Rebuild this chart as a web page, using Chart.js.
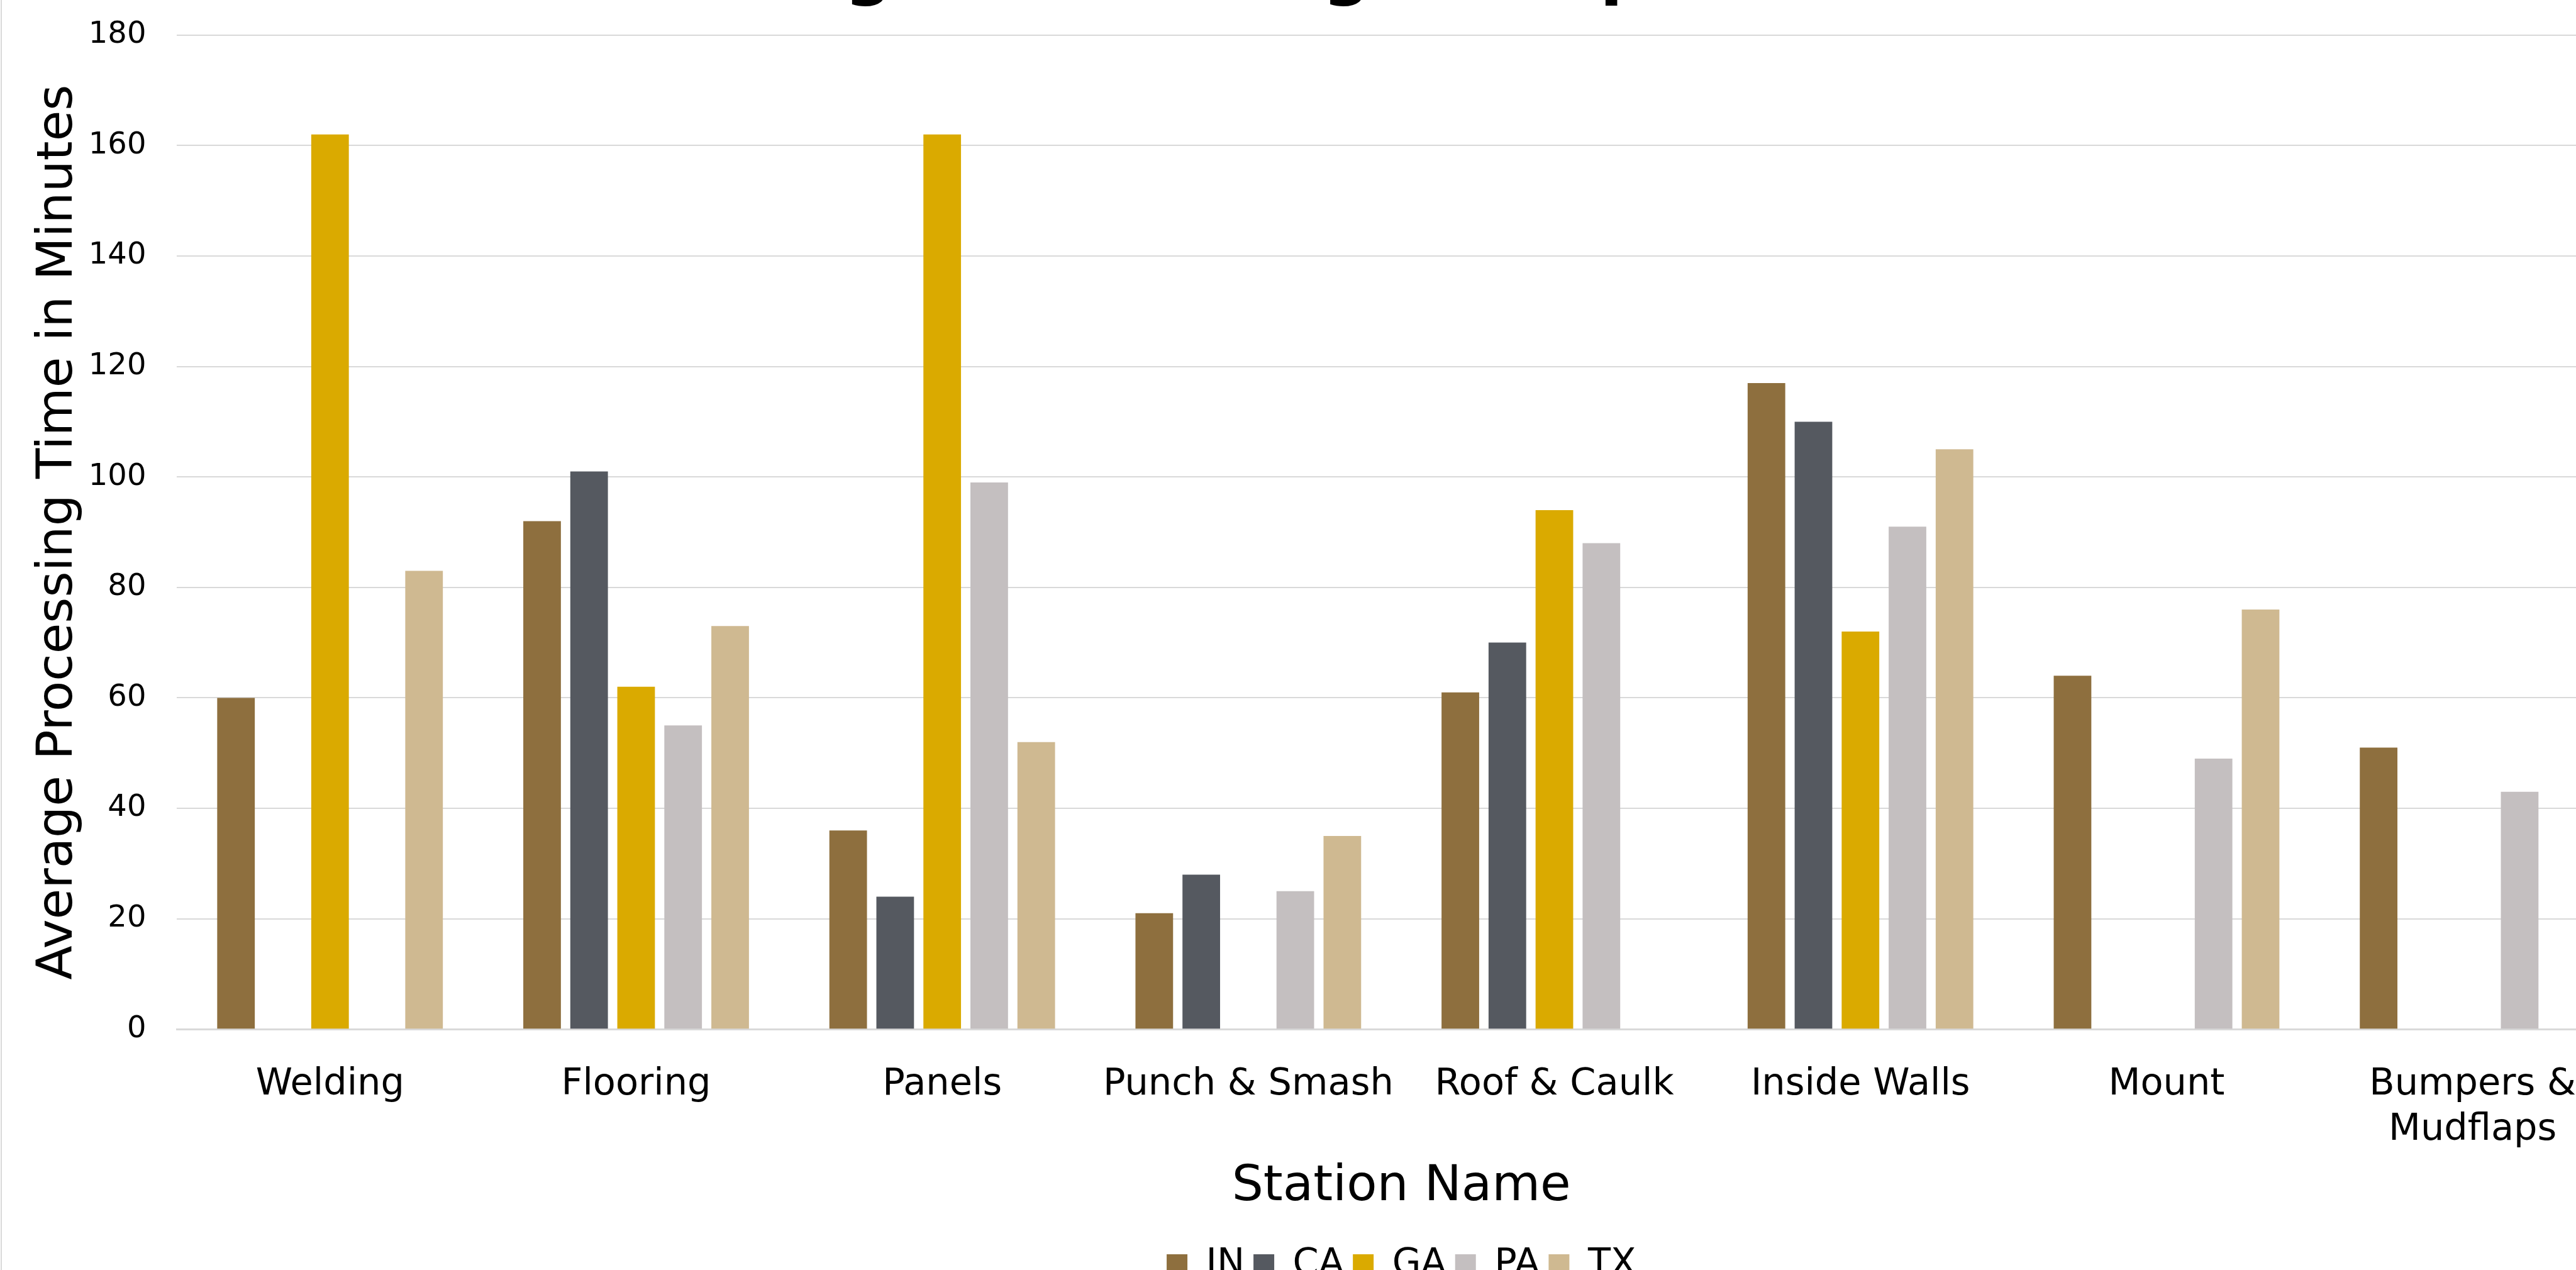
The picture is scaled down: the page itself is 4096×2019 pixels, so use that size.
<!DOCTYPE html>
<html>
<head>
<meta charset="utf-8">
<script src="https://cdn.jsdelivr.net/npm/chart.js@4.4.1/dist/chart.umd.min.js"></script>
<style>
  html, body { margin: 0; padding: 0; background: #fff; overflow: hidden; width: 4096px; height: 2019px; }
  #c { position: absolute; left: 0; top: 0; }
  #frame { position: absolute; left: 1px; top: 0; width: 2px; height: 2019px; background: #d9d9d9; }
</style>
</head>
<body>
<canvas id="c" width="4472" height="2050"></canvas>
<div id="frame"></div>
<script>
// values (minutes)
const stations = ['Welding', 'Flooring', 'Panels', 'Punch & Smash', 'Roof & Caulk', 'Inside Walls', 'Mount', ['Bumpers &', 'Mudflaps']];
const plants = ['IN', 'CA', 'GA', 'PA', 'TX'];
const inTimes = [60, 92, 36, 21, 61, 117, 64, 51];
const caTimes = [null, 101, 24, 28, 70, 110, null, null];
const gaTimes = [162, 62, 162, null, 94, 72, null, null];
const paTimes = [null, 55, 99, 25, 88, 91, 49, 43];
const txTimes = [83, 73, 52, 35, null, 105, 76, null];
const titleText = 'Average Processing Time per Station';

const palette = ['#8E6F3E', '#555960', '#DAAA00', '#C4BFC0', '#CFB991'];
const series = [inTimes, caTimes, gaTimes, paTimes, txTimes];
const font = 'DejaVu Sans';

// the title sits above the top edge, only its descenders show
const cutTitle = {
  id: 'cutTitle',
  afterDraw(chart) {
    const ctx = chart.ctx;
    ctx.save();
    ctx.font = 'bold 106px "' + font + '"';
    ctx.fillStyle = '#000';
    ctx.textAlign = 'left';
    ctx.textBaseline = 'alphabetic';
    ctx.fillText(titleText, 1000, -13);
    ctx.restore();
  }
};

new Chart(document.getElementById('c'), {
  type: 'bar',
  data: {
    labels: stations,
    datasets: plants.map((p, i) => ({
      label: p,
      data: series[i],
      backgroundColor: palette[i],
      borderWidth: 0,
      categoryPercentage: 0.768,
      barPercentage: 0.8
    }))
  },
  options: {
    responsive: false,
    animation: false,
    devicePixelRatio: 1,
    layout: { padding: { top: 0, right: 297, left: 0, bottom: 0 } },
    plugins: {
      tooltip: { enabled: false },
      title: { display: false },
      legend: {
        position: 'bottom',
        fullSize: false,
        labels: {
          color: '#000',
          font: { family: font, size: 59 },
          boxWidth: 33,
          boxHeight: 33,
          padding: 14
        }
      }
    },
    scales: {
      x: {
        grid: { display: false },
        border: { display: true, color: '#d9d9d9', width: 3 },
        ticks: {
          color: '#000',
          font: { family: font, size: 59, lineHeight: 1.22 },
          padding: 44,
          maxRotation: 0,
          autoSkip: false
        },
        title: {
          display: true,
          text: 'Station Name',
          color: '#000',
          font: { family: font, size: 79 },
          padding: { top: -36, bottom: 32 }
        }
      },
      y: {
        min: 0,
        max: 180,
        grid: { color: '#d9d9d9', lineWidth: 2, drawTicks: true, tickLength: 22, tickColor: 'rgba(0,0,0,0)' },
        border: { display: false },
        ticks: {
          stepSize: 20,
          color: '#000',
          font: { family: font, size: 48 },
          padding: 27
        },
        title: {
          display: true,
          text: 'Average Processing Time in Minutes',
          color: '#000',
          font: { family: font, size: 79 },
          padding: { top: 46, bottom: -27 }
        }
      }
    }
  },
  plugins: [cutTitle]
});
</script>
</body>
</html>
